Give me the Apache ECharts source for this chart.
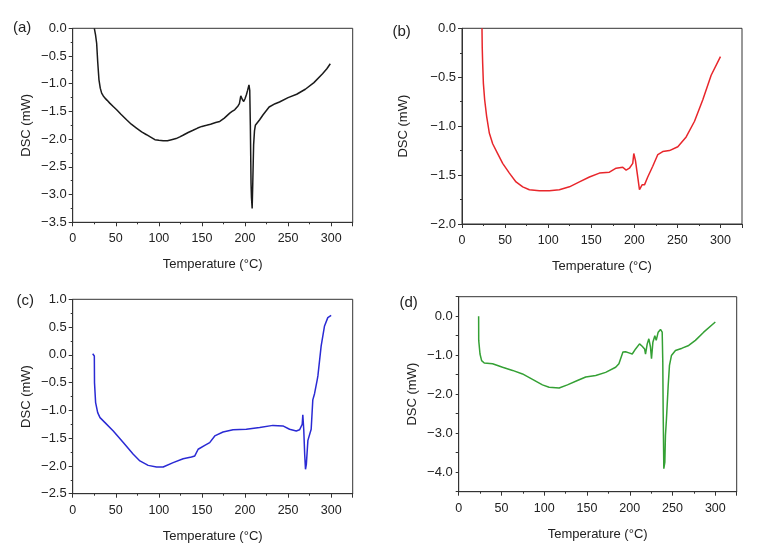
<!DOCTYPE html>
<html>
<head>
<meta charset="utf-8">
<script src="https://cdn.jsdelivr.net/npm/echarts@6/dist/echarts.min.js"></script>
<style>
html,body{margin:0;padding:0;background:#fff;}
#chart{width:772px;height:551px;}
</style>
</head>
<body>
<div id="chart"></div>
<script>
// Panel (a) – black
var tempA = [25.1, 26.5, 27.8, 29, 30.5, 32, 33.6, 35.5, 37.5, 40, 43, 47, 51, 56, 62.5, 68, 74, 80, 85.7, 90, 95.4, 100, 105, 110, 114.7, 120, 124.3, 128, 134, 139.7, 145, 150, 155.3, 160, 166, 170.7, 176, 182.3, 185, 188, 191.9, 193.5, 195.1, 196.8, 198.5, 200, 201.6, 203, 204.6, 205.5, 206.2, 207, 207.5, 208.3, 209, 210, 211, 212, 214, 217, 221, 228, 235, 240, 250, 260, 270, 280, 290, 295, 299];
var dscA = [0, -0.12, -0.27, -0.6, -0.93, -1.08, -1.17, -1.22, -1.26, -1.3, -1.35, -1.41, -1.47, -1.55, -1.65, -1.73, -1.8, -1.87, -1.92, -1.96, -2.01, -2.02, -2.03, -2.03, -2.01, -1.99, -1.96, -1.93, -1.88, -1.84, -1.8, -1.77, -1.75, -1.73, -1.7, -1.68, -1.62, -1.53, -1.5, -1.47, -1.4, -1.36, -1.22, -1.28, -1.32, -1.27, -1.2, -1.12, -1.02, -1.12, -1.75, -2.8, -3.05, -3.25, -2.8, -2.1, -1.85, -1.75, -1.72, -1.65, -1.56, -1.42, -1.36, -1.33, -1.25, -1.19, -1.1, -0.98, -0.82, -0.73, -0.64];

// Panel (b) – red
var tempB = [23.2, 23.5, 24, 24.8, 26.3, 28.6, 31.7, 35.6, 41.4, 47.2, 55, 62.7, 70.5, 78.2, 89.8, 101.4, 113, 124.7, 136.3, 147.9, 159.5, 171.1, 178.9, 186.6, 190.5, 194.3, 198.2, 199.4, 201.3, 204, 206, 209, 211.8, 215.6, 221.4, 227.3, 233, 240.8, 250.5, 260.2, 269.9, 279.5, 289.2, 300];
var dscB = [0, -0.2, -0.36, -0.56, -0.73, -0.9, -1.07, -1.18, -1.28, -1.38, -1.48, -1.57, -1.62, -1.65, -1.66, -1.66, -1.65, -1.62, -1.57, -1.52, -1.48, -1.47, -1.43, -1.42, -1.45, -1.43, -1.38, -1.28, -1.35, -1.52, -1.65, -1.6, -1.6, -1.52, -1.41, -1.29, -1.26, -1.25, -1.21, -1.11, -0.95, -0.73, -0.48, -0.29];

// Panel (c) – blue
var tempC = [23.2, 25.1, 25.3, 26.6, 29, 31.7, 37.5, 47.1, 58.7, 70.3, 78, 87.6, 97.3, 105, 116.6, 128.2, 137.8, 141.7, 145.6, 153.3, 159, 164.9, 174.5, 186.1, 201.5, 217, 232.4, 244, 251.7, 259.5, 263.3, 266.4, 267.1, 268.2, 269.3, 270.2, 271.2, 273, 276.8, 278.7, 280.7, 283.8, 284.6, 288.4, 292.3, 296.1, 300];
var dscC = [0.02, -0.02, -0.5, -0.86, -1.04, -1.13, -1.22, -1.37, -1.58, -1.79, -1.91, -1.99, -2.02, -2.02, -1.94, -1.87, -1.84, -1.82, -1.7, -1.63, -1.58, -1.46, -1.39, -1.35, -1.34, -1.31, -1.27, -1.28, -1.34, -1.37, -1.35, -1.25, -1.08, -1.35, -1.8, -2.06, -1.97, -1.54, -1.34, -0.81, -0.7, -0.45, -0.38, 0.16, 0.52, 0.67, 0.71];

// Panel (d) – green
var tempD = [23.3, 23.4, 24.9, 26.8, 29.9, 39.6, 51.3, 63, 74.6, 86.3, 97.9, 105.7, 117.4, 127.1, 138.8, 148.5, 160.2, 171.8, 183.5, 187.3, 189.3, 192, 195.1, 199, 202.9, 206.8, 211.4, 214.5, 217.3, 218.4, 220.4, 222.3, 224.2, 225.4, 227, 229.3, 230.9, 233.2, 235.9, 237.9, 238.6, 239, 239.8, 241, 241.7, 242.9, 244.9, 246.4, 248.7, 253.4, 261.2, 268.9, 276.7, 286.4, 300];
var dscD = [0, -0.62, -0.97, -1.14, -1.2, -1.22, -1.31, -1.39, -1.48, -1.62, -1.76, -1.82, -1.84, -1.76, -1.65, -1.56, -1.52, -1.44, -1.31, -1.22, -1.09, -0.92, -0.91, -0.94, -0.97, -0.84, -0.71, -0.77, -0.84, -0.97, -0.71, -0.58, -0.79, -1.09, -0.67, -0.5, -0.62, -0.41, -0.34, -0.41, -1.18, -2.38, -3.91, -3.74, -3.06, -2.63, -1.78, -1.26, -1.01, -0.88, -0.82, -0.75, -0.62, -0.41, -0.15];

var xTicks = [0, 50, 100, 150, 200, 250, 300];
var panelLabels = ['(a)', '(b)', '(c)', '(d)'];
var xName = 'Temperature (°C)';
var yName = 'DSC (mW)';

function zip(xs, ys) { return xs.map(function (x, i) { return [x, ys[i]]; }); }

var FONT = 'Liberation Sans, Arial, sans-serif';
var AX = '#333';
var TXT = '#222';

var grids = [
  {left: 72.7, top: 28.3, width: 280, height: 194},
  {left: 462, top: 28.3, width: 280, height: 195.7},
  {left: 72.7, top: 299.3, width: 280, height: 194.4},
  {left: 458.7, top: 296.7, width: 278, height: 195}
];
var yRanges = [[-3.5, 0], [-2, 0], [-2.5, 1], [-4.5, 0.5]];
var yNameGaps = [40, 52, 40, 40];
var colors = ['#1a1a1a', '#e8262b', '#2a2ad4', '#34a034'];
var datas = [zip(tempA, dscA), zip(tempB, dscB), zip(tempC, dscC), zip(tempD, dscD)];

function fmt(v) {
  var s = Math.abs(v).toFixed(1);
  return (v < -1e-9 ? '\u2212' : '') + s;
}

var xAxes = [], yAxes = [], series = [], gridOpts = [];
for (var i = 0; i < 4; i++) {
  gridOpts.push(Object.assign({show: true, borderColor: AX, borderWidth: 1, backgroundColor: 'transparent', containLabel: false}, grids[i]));
  xAxes.push({
    type: 'value', gridIndex: i, min: 0, max: 325, interval: 50,
    name: xName, nameLocation: 'middle', nameGap: 36,
    nameTextStyle: {fontFamily: FONT, fontSize: 13, color: TXT},
    axisLine: {onZero: false, lineStyle: {color: AX, width: 1}},
    axisTick: {show: true, length: 4, lineStyle: {color: AX}},
    minorTick: {show: true, splitNumber: 2, length: 2, lineStyle: {color: AX}},
    splitLine: {show: false},
    axisLabel: {fontFamily: FONT, fontSize: 12.5, color: TXT, margin: 10, showMaxLabel: false,
      formatter: function (v) { return xTicks.indexOf(v) >= 0 ? String(v) : ''; }}
  });
  var isD = (i === 3);
  yAxes.push({
    type: 'value', gridIndex: i, min: yRanges[i][0], max: yRanges[i][1], interval: 0.5,
    name: yName, nameLocation: 'middle', nameGap: yNameGaps[i], nameRotate: 90,
    nameTextStyle: {fontFamily: FONT, fontSize: 13, color: TXT},
    axisLine: {onZero: false, lineStyle: {color: AX, width: 1}},
    axisTick: {show: true, length: isD ? 3 : 4, lineStyle: {color: AX}},
    minorTick: {show: !isD, splitNumber: 2, length: 2, lineStyle: {color: AX}},
    splitLine: {show: false},
    axisLabel: {fontFamily: FONT, fontSize: 13, color: TXT, margin: 6,
      formatter: isD ? function (v) { return Math.abs(v - Math.round(v)) < 1e-6 ? fmt(v) : ''; } : fmt}
  });
  series.push({
    type: 'line', xAxisIndex: i, yAxisIndex: i, data: datas[i], showSymbol: false, symbol: 'none',
    smooth: false, lineStyle: {color: colors[i], width: 1.5}, animation: false, silent: true
  });
}

var labelPos = [[13, 29], [392.5, 33], [16.5, 302.7], [399.5, 304.3]];
var graphics = panelLabels.map(function (t, i) {
  return {type: 'text', left: labelPos[i][0], top: labelPos[i][1] - 9,
    style: {text: t, fontFamily: FONT, fontSize: 15, fill: TXT}};
});

var chart = echarts.init(document.getElementById('chart'), null, {renderer: 'canvas'});
chart.setOption({
  animation: false,
  backgroundColor: '#fff',
  grid: gridOpts,
  xAxis: xAxes,
  yAxis: yAxes,
  series: series,
  graphic: graphics
});
</script>
</body>
</html>
